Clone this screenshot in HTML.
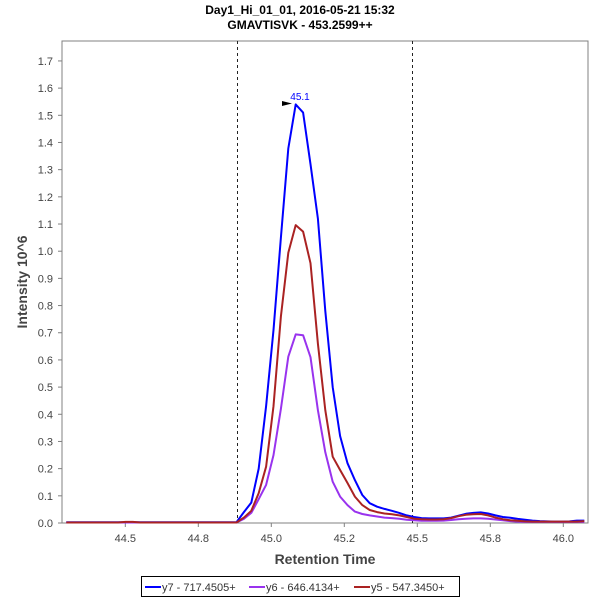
<!DOCTYPE html>
<html><head><meta charset="utf-8"><style>
body{margin:0;background:#fff;}
svg{display:block;font-family:"Liberation Sans",sans-serif;}
</style></head><body>
<svg id="chart" width="600" height="600">
<text x="300" y="14" text-anchor="middle" font-size="12" font-weight="bold">Day1_Hi_01_01, 2016-05-21 15:32</text>
<text x="300" y="29" text-anchor="middle" font-size="12" font-weight="bold">GMAVTISVK - 453.2599++</text>
<rect x="62" y="41" width="526" height="482" fill="#fff" stroke="#808080"/>
<text transform="translate(27,282) rotate(-90)" text-anchor="middle" font-size="14" font-weight="bold" fill="#444">Intensity 10^6</text>
<text x="325" y="564" text-anchor="middle" font-size="14" font-weight="bold" fill="#444">Retention Time</text>
<g id="axes"></g>
<g id="series"></g>
<g>
<polygon points="282,101 292,103.5 282,106" fill="#000"/>
<text x="300" y="100" text-anchor="middle" font-size="10" fill="#0000ff">45.1</text>
</g>
<g>
<rect x="141.5" y="576.5" width="318" height="20" fill="#fff" stroke="#000"/>
<g><line x1="145" y1="587" x2="161" y2="587" stroke="#0000ff" stroke-width="2"/><text x="162" y="591" font-size="11" fill="#333">y7 - 717.4505+</text></g>
<g><line x1="249" y1="587" x2="265" y2="587" stroke="#9933ee" stroke-width="2"/><text x="266" y="591" font-size="11" fill="#333">y6 - 646.4134+</text></g>
<g><line x1="354" y1="587" x2="370" y2="587" stroke="#aa2222" stroke-width="2"/><text x="371" y="591" font-size="11" fill="#333">y5 - 547.3450+</text></g>
</g>
</svg>
<script>
const xTicks = [44.5, 44.75, 45.0, 45.25, 45.5, 45.75, 46.0];
const xTickLabels = ["44.5","44.8","45.0","45.2","45.5","45.8","46.0"];
const yTicks = [0,0.1,0.2,0.3,0.4,0.5,0.6,0.7,0.8,0.9,1.0,1.1,1.2,1.3,1.4,1.5,1.6,1.7];
const boundaries = [44.883, 45.481];
const t0 = 44.298;
const tStep = 0.02534;
const y7 = [0.003,0.003,0.003,0.003,0.003,0.003,0.003,0.003,0.003,0.003,0.003,0.003,0.003,0.003,0.003,0.003,0.003,0.003,0.003,0.003,0.003,0.003,0.003,
0.003,0.04,0.075,0.20,0.43,0.71,1.05,1.378,1.54,1.51,1.32,1.12,0.78,0.5,0.32,0.22,0.158,0.103,0.073,0.06,0.052,0.045,0.037,0.028,0.022,
0.018,0.017,0.017,0.017,0.02,0.027,0.034,0.037,0.039,0.035,0.028,0.022,0.019,0.015,0.012,0.009,0.007,0.006,0.005,0.005,0.006,0.009,0.009];
const y6 = [0.002,0.002,0.002,0.002,0.002,0.002,0.002,0.002,0.002,0.002,0.002,0.002,0.002,0.002,0.002,0.002,0.002,0.002,0.002,0.002,0.002,0.002,0.002,
0.002,0.015,0.037,0.088,0.14,0.25,0.42,0.612,0.694,0.691,0.61,0.415,0.26,0.152,0.097,0.066,0.042,0.033,0.028,0.024,0.02,0.018,0.016,0.012,0.01,
0.008,0.008,0.008,0.009,0.011,0.014,0.016,0.017,0.017,0.016,0.013,0.01,0.007,0.005,0.004,0.004,0.004,0.004,0.004,0.004,0.004,0.004,0.004];
const y5 = [0.002,0.002,0.002,0.002,0.002,0.002,0.002,0.002,0.004,0.004,0.002,0.002,0.002,0.002,0.002,0.002,0.002,0.002,0.002,0.002,0.002,0.002,0.002,
0.002,0.02,0.045,0.11,0.207,0.43,0.76,0.994,1.096,1.072,0.956,0.66,0.415,0.244,0.195,0.147,0.097,0.066,0.048,0.04,0.035,0.032,0.028,0.022,0.016,
0.014,0.013,0.013,0.014,0.018,0.025,0.03,0.032,0.033,0.028,0.02,0.014,0.01,0.008,0.006,0.005,0.005,0.005,0.005,0.005,0.005,0.005,0.007];
const NS='http://www.w3.org/2000/svg';
function xs(t){return 125.3+(t-44.5)*292;}
function ys(v){return 523-v*271.8;}
function mk(tag,attrs,parent){const e=document.createElementNS(NS,tag);for(const k in attrs)e.setAttribute(k,attrs[k]);parent.appendChild(e);return e;}
const axes=document.getElementById('axes');
yTicks.forEach(v=>{
  const g=mk('g',{},axes);
  
  
  mk('line',{x1:58,x2:62,y1:ys(v),y2:ys(v),stroke:'#808080'},g);
  const t=mk('text',{x:53,y:ys(v)+4,'text-anchor':'end','font-size':11,fill:'#444'},g);
  t.textContent=v.toFixed(1);
});
xTicks.forEach((v,i)=>{
  const g=mk('g',{},axes);
  
  
  mk('line',{x1:xs(v),x2:xs(v),y1:523,y2:527,stroke:'#808080'},g);
  const t=mk('text',{x:xs(v),y:542,'text-anchor':'middle','font-size':11,fill:'#444'},g);
  t.textContent=xTickLabels[i];
});
boundaries.forEach(b=>{
  const l=mk('line',{x1:Math.round(xs(b))+0.5,x2:Math.round(xs(b))+0.5,y1:41,y2:523,stroke:'#222','stroke-dasharray':'3,3'},axes);
  
  
});
const ser=document.getElementById('series');
[[y7,'#0000ff','series-y7'],[y6,'#9933ee','series-y6'],[y5,'#aa2222','series-y5']].forEach(([arr,c,n])=>{
  const pts=arr.map((v,i)=>xs(t0+i*tStep).toFixed(1)+','+ys(v).toFixed(1)).join(' ');
  const p=mk('polyline',{points:pts,fill:'none',stroke:c,'stroke-width':2,'stroke-linejoin':'round'},ser);
  
  
});
</script>
</body></html>
